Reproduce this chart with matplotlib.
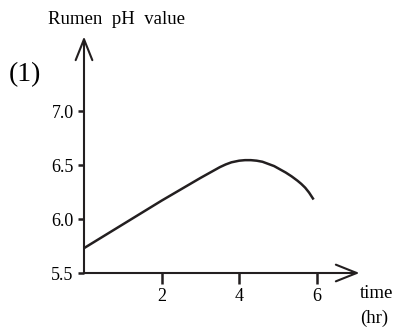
import matplotlib
matplotlib.use("Agg")
from matplotlib import pyplot as plt

# values
time_hr = [0, 1, 2, 3, 3.35, 3.5, 3.65, 3.8, 4.0, 4.15, 4.3, 4.45, 4.6, 4.75, 4.9,
           5.05, 5.2, 5.35, 5.5, 5.6, 5.7, 5.8, 5.9]
rumen_ph = [5.73, 5.95, 6.17, 6.38, 6.45, 6.48, 6.505, 6.525, 6.54, 6.545, 6.545, 6.54, 6.53,
            6.51, 6.49, 6.46, 6.43, 6.395, 6.355, 6.325, 6.29, 6.245, 6.19]

x_ticks = [2, 4, 6]
y_ticks = [5.5, 6.0, 6.5, 7.0]
y_tick_labels = ["5.5", "6.0", "6.5", "7.0"]

plt.rcParams['font.family'] = ['Liberation Serif', 'DejaVu Serif']

fig = plt.figure(figsize=(3.99, 3.27), dpi=100)
ax = fig.add_axes([84/399, 54/327, 275.5/399, 236.5/327])

ax.plot(time_hr, rumen_ph, color='#231f20', linewidth=1.8, solid_joinstyle='round')

ax.set_xlim(0, 7.1)
ax.set_ylim(5.5, 7.69)
for s in ax.spines.values():
    s.set_visible(False)

# axes drawn as arrows
arrow = dict(arrowstyle='->,head_length=0.75,head_width=0.3', color='#231f20',
             lw=1.5, shrinkA=0, shrinkB=0, mutation_scale=20)
ax.annotate('', xy=(0, 1), xytext=(0, 0), xycoords='axes fraction', arrowprops=arrow)
ax.annotate('', xy=(1, 0), xytext=(0, 0), xycoords='axes fraction', arrowprops=arrow)

ax.set_xticks(x_ticks)
ax.set_yticks(y_ticks)
ax.set_yticklabels(y_tick_labels)
ax.tick_params(axis='x', direction='out', length=8, width=1.8, pad=3, labelsize=13, color='#231f20')
ax.tick_params(axis='y', direction='out', length=4.5, width=1.8, pad=3, labelsize=13, color='#231f20')

fig.text(116/399, 1 - 20/327, 'Rumen  pH  value', ha='center', va='center', fontsize=13.5)
fig.text(25/399, 1 - 75/327, '(1)', ha='center', va='center', fontsize=20)
fig.text(377/399, 1 - 293/327, 'time', ha='center', va='center', fontsize=13.5)
fig.text(374/399, 1 - 318/327, '(hr)', ha='center', va='center', fontsize=13.5)

fig.savefig('out.png', dpi=100)
